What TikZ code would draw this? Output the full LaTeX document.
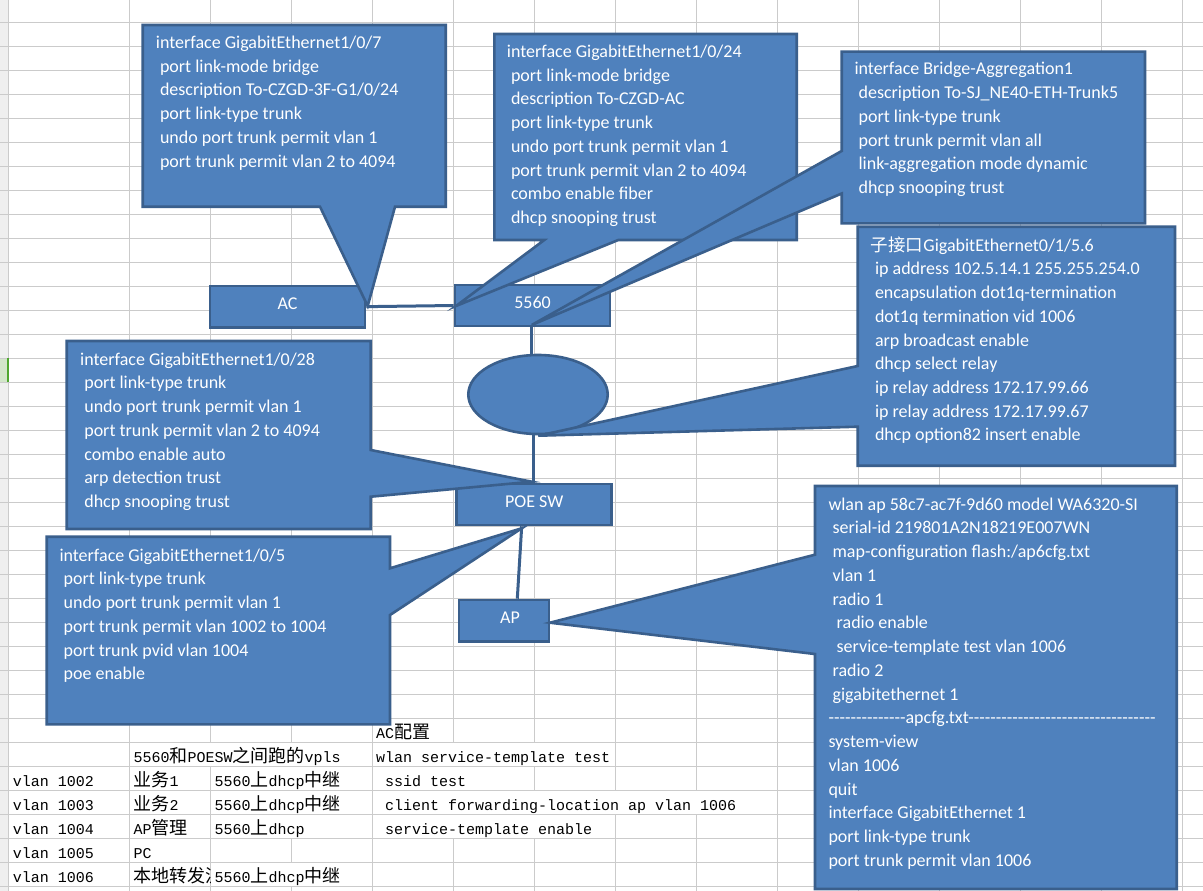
\documentclass[tikz,border=0pt]{standalone}
\usepackage{fontspec}
\setmainfont{Carlito}
\newfontfamily\tblfont{Liberation Mono}
\newfontfamily\cjkfont{Noto Sans CJK SC}
\usetikzlibrary{shapes.geometric}
\definecolor{shapefill}{HTML}{4F81BD}
\definecolor{shapeline}{HTML}{3A5F8C}
\definecolor{gridc}{HTML}{CBCBCB}
\definecolor{hdrfill}{HTML}{EFEFEF}
\definecolor{selfill}{HTML}{D2E6C9}
\definecolor{selbar}{HTML}{4EA72E}
\newcommand\zh[1]{{\cjkfont\fontsize{18}{18}\selectfont #1}}
\newcommand\ind{\hspace*{4.1pt}}
\newcommand\hy{-\kern0pt}
\newcommand\cfglines[1]{\vtop{\hsize=420pt\parindent=0pt\parskip=0pt\rightskip=0pt plus 1fil\relax #1}}
\tikzset{
 gridline/.style={draw=gridc,line width=1pt},
 calloutshape/.style={fill=shapefill,draw=shapeline,line width=2.6pt,line join=miter},
 devbox/.style={rectangle,fill=shapefill,draw=shapeline,line width=2.6pt,inner sep=0pt,text=white,font=\fontsize{18}{22}\selectfont,text height=12pt,text depth=6pt},
 cloudshape/.style={ellipse,fill=shapefill,draw=shapeline,line width=2.6pt,inner sep=0pt,minimum width=139.4pt,minimum height=79pt},
 link/.style={draw=shapeline,line width=3pt},
 cfgtext/.style={anchor=base west,inner sep=0pt,text=white,font=\fontsize{18}{23.75}\selectfont},
 celltext/.style={anchor=base west,inner sep=0pt,text=black,font=\tblfont\fontsize{15}{18}\selectfont},
 cellmask/.style={fill=white,draw=none},
}
\begin{document}
\begin{tikzpicture}[x=1pt,y=-1pt]
\useasboundingbox (0,0) rectangle (1203,891);
\fill[white] (0,0) rectangle (1203,891);
% ---------- spreadsheet ----------
\fill[hdrfill] (0,0) rectangle (8.3,891);
\foreach \k in {0,...,36} \draw[gridline] (0,{22.7+24*\k}) -- (1203,{22.7+24*\k});
\draw[gridline] (8.3,0) -- (8.3,891);
\foreach \k in {0,...,13} \draw[gridline] ({129.3+81.03*\k},0) -- ({129.3+81.03*\k},891);
\fill[selfill] (0,358.8) rectangle (6.7,381.8);
\fill[selbar] (6.7,358.3) rectangle (8.8,382.3);
% masks for overflowing cells
\fill[cellmask] (130.0,743.4) rectangle (371.7,766.0);
\fill[cellmask] (373.1,743.4) rectangle (614.8,766.0);
\fill[cellmask] (211.0,767.4) rectangle (371.7,790.0);
\fill[cellmask] (373.1,767.4) rectangle (533.8,790.0);
\fill[cellmask] (211.0,791.4) rectangle (371.7,814.0);
\fill[cellmask] (373.1,791.4) rectangle (776.8,814.0);
\fill[cellmask] (211.0,815.4) rectangle (371.7,838.0);
\fill[cellmask] (373.1,815.4) rectangle (614.8,838.0);
\fill[cellmask] (211.0,863.4) rectangle (371.7,886.0);
% cell texts
\node[celltext] (tac) at (376,738.7) {AC\zh{配置}};
\node[celltext] (tvpls) at (133.3,762.7) {5560\zh{和}POESW\zh{之间跑的}vpls};
\node[celltext] (twlan) at (376,762.7) {wlan service-template test};
\node[celltext] (v2) at (12.7,786.7) {vlan 1002};
\node[celltext] (b2) at (133.3,786.7) {\zh{业务}1};
\node[celltext] (c2) at (214.3,786.7) {5560\zh{上}dhcp\zh{中继}};
\node[celltext] (e2) at (385,786.7) {ssid test};
\node[celltext] (v3) at (12.7,810.7) {vlan 1003};
\node[celltext] (b3) at (133.3,810.7) {\zh{业务}2};
\node[celltext] (c3) at (214.3,810.7) {5560\zh{上}dhcp\zh{中继}};
\node[celltext] (e3) at (385,810.7) {client forwarding-location ap vlan 1006};
\node[celltext] (v4) at (12.7,834.7) {vlan 1004};
\node[celltext] (b4) at (133.3,834.7) {AP\zh{管理}};
\node[celltext] (c4) at (214.3,834.7) {5560\zh{上}dhcp};
\node[celltext] (e4) at (385,834.7) {service-template enable};
\node[celltext] (v5) at (12.7,858.7) {vlan 1005};
\node[celltext] (b5) at (133.3,858.7) {PC};
\node[celltext] (v6) at (12.7,882.7) {vlan 1006};
\begin{scope}
\clip (129.8,862.7) rectangle (210.3,886.7);
\node[celltext] (b6) at (133.3,882.7) {\makebox[76pt][l]{\zh{本地转发流}}};
\end{scope}
\node[celltext] (c6) at (214.3,882.7) {5560\zh{上}dhcp\zh{中继}};
% ---------- devices ----------
\node[devbox,minimum width=155pt,minimum height=41.3pt] (ac) at (287.5,306.65) {AC};
\node[devbox,minimum width=155pt,minimum height=41pt] (sw5560) at (532.5,305.5) {5560};
\node[cloudshape] (cloud) at (538,394.5) {};
\node[devbox,minimum width=155pt,minimum height=41pt] (poe) at (534.2,504.5) {POE SW\hspace{12pt}};
\node[devbox,minimum width=90pt,minimum height=41.7pt] (ap) at (504,620.85) {\hspace{12pt}AP};
% ---------- links ----------
\draw[link] (ac.east) -- (sw5560.west);
\draw[link] ([xshift=-0.8pt]sw5560.south) -- ([xshift=-0.8pt]sw5560.south |- cloud.north);
\draw[link] ([xshift=-0.9pt]poe.north |- cloud.south) -- ([xshift=-0.9pt]poe.north);
\draw[link] ([xshift=-12.5pt]poe.south) -- ([xshift=13.3pt]ap.north);
% ---------- callouts ----------
\coordinate (tip1) at (367.7,306);
\coordinate (tip2) at (456,306);
\coordinate (tip3) at (531.7,325);
\coordinate (tip4) at (538.3,435.7);
\coordinate (tip5) at (531.7,481.7);
\coordinate (tip6) at (521.7,528.3);
\coordinate (tip7) at (550,622.7);
\draw[calloutshape] (142.7,25) -- (445.7,25) -- (445.7,206.7) -- (395,206.7) -- (tip1) -- (320,206.7) -- (142.7,206.7) -- cycle;
\node[cfgtext] (cfg1) at (155.7,48.3) {\cfglines{interface GigabitEthernet1/0/7\par
\ind port link-mode bridge\par
\ind description To-CZGD-3F-G1/0/24\par
\ind port link-type trunk\par
\ind undo port trunk permit vlan 1\par
\ind port trunk permit vlan 2 to 4094}};
\draw[calloutshape] (494.3,34) -- (796.7,34) -- (796.7,240) -- (618.3,240) -- (tip2) -- (544.3,240) -- (494.3,240) -- cycle;
\node[cfgtext] (cfg2) at (506.7,57.3) {\cfglines{interface GigabitEthernet1/0/24\par
\ind port link-mode bridge\par
\ind description To-CZGD-AC\par
\ind port link-type trunk\par
\ind undo port trunk permit vlan 1\par
\ind port trunk permit vlan 2 to 4094\par
\ind combo enable fiber\par
\ind dhcp snooping trust}};
\draw[calloutshape] (841.7,51.7) -- (1145,51.7) -- (1145,223.3) -- (841.7,223.3) -- (841.7,193.5) -- (tip3) -- (841.7,151) -- cycle;
\node[cfgtext] (cfg3) at (854.3,75) {\cfglines{interface Bridge-Aggregation1\par
\ind description To-SJ\_NE40-ETH-Trunk5\par
\ind port link-type trunk\par
\ind port trunk permit vlan all\par
\ind link-aggregation mode dynamic\par
\ind dhcp snooping trust}};
\draw[calloutshape] (857.7,226.7) -- (1175,226.7) -- (1175,465.7) -- (857.7,465.7) -- (857.7,426.7) -- (tip4) -- (857.7,366) -- cycle;
\node[cfgtext] (cfg4) at (870.7,251) {\cfglines{{\cjkfont\fontsize{17.5}{23.75}\selectfont 子接口}GigabitEthernet0/1/5.6\par
\ind ip address 102.5.14.1 255.255.254.0\par
\ind encapsulation dot1q-termination\par
\ind dot1q termination vid 1006\par
\ind arp broadcast enable\par
\ind dhcp select relay\par
\ind ip relay address 172.17.99.66\par
\ind ip relay address 172.17.99.67\par
\ind dhcp option82 insert enable}};
\draw[calloutshape] (66.7,341) -- (370.7,341) -- (370.7,450) -- (tip5) -- (370.7,496.7) -- (370.7,529) -- (66.7,529) -- cycle;
\node[cfgtext] (cfg5) at (80,365) {\cfglines{interface GigabitEthernet1/0/28\par
\ind port link-type trunk\par
\ind undo port trunk permit vlan 1\par
\ind port trunk permit vlan 2 to 4094\par
\ind combo enable auto\par
\ind arp detection trust\par
\ind dhcp snooping trust}};
\draw[calloutshape] (46.7,536.7) -- (390,536.7) -- (390,568.3) -- (tip6) -- (390,615) -- (390,724.3) -- (46.7,724.3) -- cycle;
\node[cfgtext] (cfg6) at (59.3,561) {\cfglines{interface GigabitEthernet1/0/5\par
\ind port link-type trunk\par
\ind undo port trunk permit vlan 1\par
\ind port trunk permit vlan 1002 to 1004\par
\ind port trunk pvid vlan 1004\par
\ind poe enable}};
\draw[calloutshape] (815,486) -- (1176.7,486) -- (1176.7,889) -- (815,889) -- (815,654) -- (tip7) -- (815,554.7) -- cycle;
\node[cfgtext] (cfg7) at (828.3,510) {\cfglines{wlan ap 58c7-ac7f-9d60 model WA6320-SI\par
\ind serial-id 219801A2N18219E007WN\par
\ind map-configuration flash:/ap6cfg.txt\par
\ind vlan 1\par
\ind radio 1\par
\ind\ind radio enable\par
\ind\ind service-template test vlan 1006\par
\ind radio 2\par
\ind gigabitethernet 1\par
\hy\hy\hy\hy\hy\hy\hy\hy\hy\hy\hy\hy\hy\hy apcfg.txt\hy\hy\hy\hy\hy\hy\hy\hy\hy\hy\hy\hy\hy\hy\hy\hy\hy\hy\hy\hy\hy\hy\hy\hy\hy\hy\hy\hy\hy\hy\hy\hy\hy\hy\par
system-view\par
vlan 1006\par
quit\par
interface GigabitEthernet 1\par
port link-type trunk\par
port trunk permit vlan 1006}};
\end{tikzpicture}
\end{document}
